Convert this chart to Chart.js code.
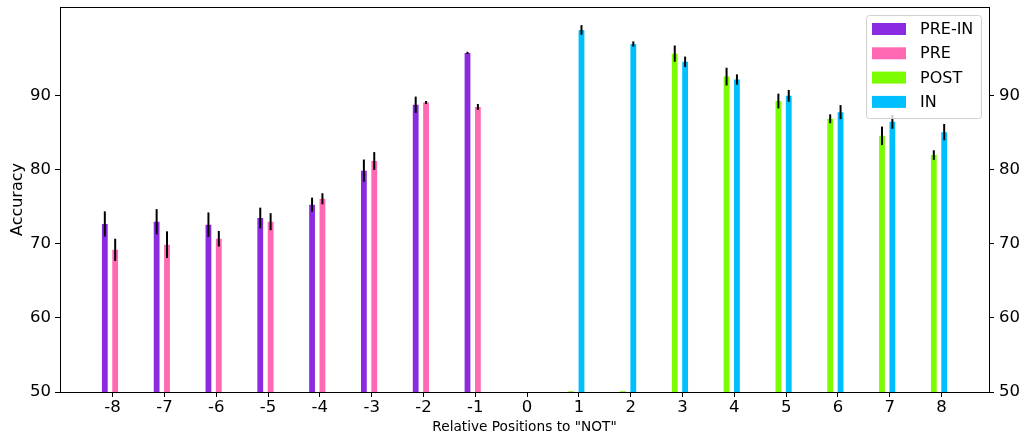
<!DOCTYPE html>
<html>
<head>
<meta charset="utf-8">
<script src="https://cdn.jsdelivr.net/npm/chart.js@4.4.1/dist/chart.umd.min.js"></script>
<style>
  html, body { margin: 0; padding: 0; background: #fff; }
  #wrap { width: 1027px; height: 441px; position: relative; }
</style>
</head>
<body>
<div id="wrap"><canvas id="chartCanvas"></canvas></div>
<script>
// positions relative to "NOT"
const xTicks = [-8, -7, -6, -5, -4, -3, -2, -1, 0, 1, 2, 3, 4, 5, 6, 7, 8];
const yTicks = [50, 60, 70, 80, 90];
const beforePos = [-8, -7, -6, -5, -4, -3, -2, -1];
const afterPos = [1, 2, 3, 4, 5, 6, 7, 8];

const preInAcc = [72.7, 73.0, 72.6, 73.5, 75.3, 79.9, 88.8, 95.8];
const preInErr = [1.7, 1.7, 1.65, 1.4, 0.95, 1.5, 1.1, 0.15];
const preAcc = [69.2, 69.9, 70.7, 73.0, 76.1, 81.2, 89.1, 88.5];
const preErr = [1.5, 1.8, 1.05, 1.15, 0.75, 1.2, 0.2, 0.4];
const postAcc = [50.1, 50.1, 95.7, 92.6, 89.3, 86.9, 84.6, 82.0];
const postErr = [0, 0, 1.1, 1.2, 1.0, 0.6, 1.25, 0.65];
const inAcc = [98.9, 97.0, 94.6, 92.2, 90.0, 87.8, 86.5, 85.1];
const inErr = [0.65, 0.35, 0.7, 0.7, 0.8, 0.95, 0.95, 1.1];

const FONT = 'DejaVu Sans';

function pts(xs, ys) {
  return xs.map((x, i) => ({ x: x, y: ys[i] }));
}

// error bars on top of the bars
const errorBars = {
  id: 'errorBars',
  afterDatasetsDraw(chart) {
    const ctx = chart.ctx;
    const y = chart.scales.y;
    ctx.save();
    ctx.strokeStyle = '#000';
    ctx.lineWidth = 2;
    chart.data.datasets.forEach((ds, i) => {
      if (!ds.errors) return;
      chart.getDatasetMeta(i).data.forEach((bar, j) => {
        const v = ds.data[j].y, e = ds.errors[j];
        if (v == null || !e) return;
        ctx.beginPath();
        ctx.moveTo(bar.x, y.getPixelForValue(v - e));
        ctx.lineTo(bar.x, y.getPixelForValue(v + e));
        ctx.stroke();
      });
    });
    ctx.restore();
  }
};

// spines + legend box like matplotlib
const frameLegend = {
  id: 'frameLegend',
  afterDraw(chart) {
    const ctx = chart.ctx;
    const a = chart.chartArea;
    ctx.save();
    ctx.strokeStyle = '#000';
    ctx.lineWidth = 1;
    ctx.strokeRect(Math.round(a.left) + 0.5, Math.round(a.top) + 0.5,
      Math.round(a.right - a.left), Math.round(a.bottom - a.top));

    const items = chart.data.datasets.filter(d => d.label);
    const bw = 115, bh = 103;
    const bx = a.right - 8 - bw, by = a.top + 8;
    ctx.beginPath();
    ctx.roundRect(bx + 0.5, by + 0.5, bw, bh, 3);
    ctx.fillStyle = 'rgba(255,255,255,0.8)';
    ctx.fill();
    ctx.strokeStyle = '#d0d0d0';
    ctx.stroke();
    ctx.font = '16px "' + FONT + '"';
    ctx.textBaseline = 'middle';
    ctx.textAlign = 'left';
    items.forEach((d, i) => {
      const cy = by + 14 + i * 24.3;
      ctx.fillStyle = d.backgroundColor;
      ctx.fillRect(bx + 6, cy - 6, 34, 12);
      ctx.fillStyle = '#000';
      ctx.fillText(d.label, bx + 54, cy + 1);
    });
    ctx.restore();
  }
};

function fitY(width) {
  return s => { s.width = width; s.paddingTop = 0; s.paddingBottom = 0; };
}

function initChart() {
  const ctx = document.getElementById('chartCanvas').getContext('2d');
  new Chart(ctx, {
    type: 'bar',
    data: {
      datasets: [
        { label: 'PRE-IN', data: pts(beforePos, preInAcc), errors: preInErr,
          backgroundColor: '#8A2BE2', stack: 's0' },
        { data: [], stack: 's1' },
        { label: 'PRE', data: pts(beforePos, preAcc), errors: preErr,
          backgroundColor: '#FF69B4', stack: 's2' },
        { data: [], stack: 's3' },
        { label: 'POST', data: pts(afterPos, postAcc), errors: postErr,
          backgroundColor: '#7CFC00', stack: 's0' },
        { label: 'IN', data: pts(afterPos, inAcc), errors: inErr,
          backgroundColor: '#00BFFF', stack: 's2' }
      ]
    },
    options: {
      responsive: true,
      maintainAspectRatio: false,
      animation: false,
      categoryPercentage: 0.4,
      barPercentage: 1.12,
      layout: { padding: { top: 7 } },
      plugins: { legend: { display: false }, tooltip: { enabled: false } },
      scales: {
        x: {
          type: 'linear',
          min: -9.015,
          max: 8.915,
          offset: false,
          afterBuildTicks: s => { s.ticks = xTicks.map(v => ({ value: v })); },
          afterFit: s => { s.height = 49; s.paddingLeft = 0; s.paddingRight = 0; },
          ticks: { color: '#000', padding: 1, maxRotation: 0, autoSkip: false,
            font: { family: FONT, size: 16.5 }, callback: v => String(v) },
          grid: { display: true, drawOnChartArea: false, offset: false,
            tickLength: 5, tickColor: '#000', tickWidth: 1 },
          border: { display: false },
          title: { display: true, text: 'Relative Positions to "NOT"', color: '#000',
            font: { family: FONT, size: 13.7 }, padding: { top: 0, bottom: 5 } }
        },
        y: {
          position: 'left',
          min: 50,
          max: 102,
          stacked: false,
          afterBuildTicks: s => { s.ticks = yTicks.map(v => ({ value: v })); },
          afterFit: fitY(60),
          ticks: { color: '#000', padding: 4, font: { family: FONT, size: 16.5 } },
          grid: { display: true, drawOnChartArea: false,
            tickLength: 5, tickColor: '#000', tickWidth: 1 },
          border: { display: false },
          title: { display: true, text: 'Accuracy', color: '#000',
            font: { family: FONT, size: 16 }, padding: { top: 8, bottom: 0 } }
        },
        y2: {
          position: 'right',
          display: true,
          min: 50,
          max: 102,
          afterBuildTicks: s => { s.ticks = yTicks.map(v => ({ value: v })); },
          afterFit: fitY(38),
          ticks: { color: '#000', padding: 5, font: { family: FONT, size: 16.5 } },
          grid: { display: true, drawOnChartArea: false,
            tickLength: 5, tickColor: '#000', tickWidth: 1 },
          border: { display: false }
        }
      }
    },
    plugins: [errorBars, frameLegend]
  });
}

document.addEventListener("DOMContentLoaded", () => {
  initChart();
});
</script>
</body>
</html>
